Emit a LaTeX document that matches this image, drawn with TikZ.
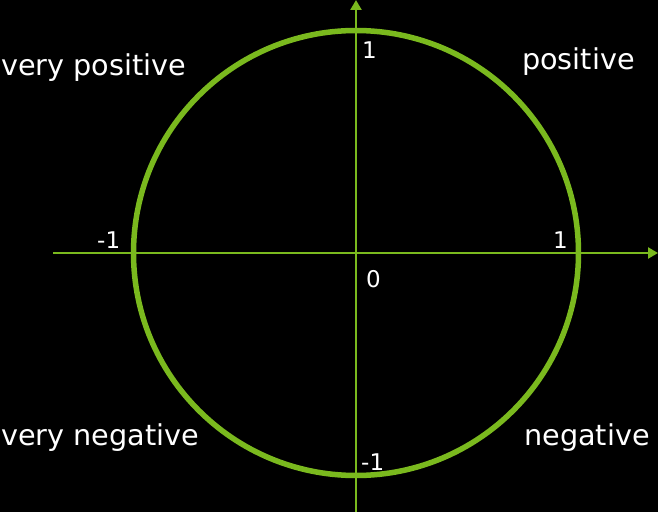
\documentclass[tikz,border=0pt]{standalone}
\usepackage{fontspec}
\setmainfont{DejaVu Sans}
\usetikzlibrary{arrows.meta}
\definecolor{nvgreen}{RGB}{122,185,30}
\begin{document}
\begin{tikzpicture}[x=1pt, y=1pt,
  axis/.style={draw=nvgreen, line width=2.4pt, -{Triangle[length=10pt,width=11pt]}},
  word/.style={text=white, anchor=base west, inner sep=0pt, font=\fontsize{28.7}{34}\selectfont},
  num/.style={text=white, anchor=base west, inner sep=0pt, font=\fontsize{23}{27}\selectfont}]
  \fill[black] (0,0) rectangle (658,512);
  \useasboundingbox (0,0) rectangle (658,512);
  \coordinate (o) at (356,259);
  \coordinate (xmin) at (53,259);
  \coordinate (xmax) at (658,259);
  \coordinate (ymin) at (356,0);
  \coordinate (ymax) at (356,512);
  \draw[axis] (xmin) -- (xmax);
  \draw[axis] (ymin) -- (ymax);
  \draw[nvgreen, line width=5.5pt] (o) circle (222.5);
  \node[word] (vpos) at (1,436) {very positive};
  \node[word] (pos) at (522,442) {positive};
  \node[word] (vneg) at (1,67) {very negative};
  \node[word] (neg) at (524,67) {negative};
  \node[num] (ytop) at (362,453) {1};
  \node[num] (xright) at (553,263) {1};
  \node[num] (xleft) at (97,263) {-1};
  \node[num] (ybot) at (361,42) {-1};
  \node[num] (zero) at (366,225) {0};
\end{tikzpicture}
\end{document}
